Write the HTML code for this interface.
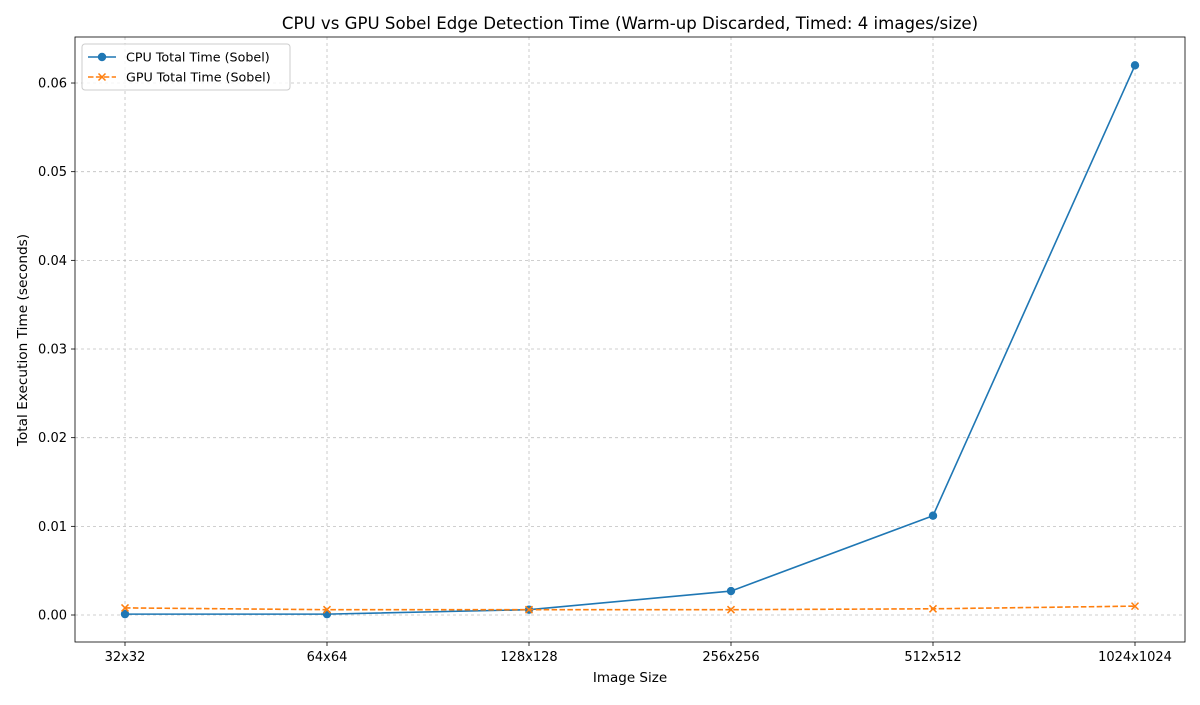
<!DOCTYPE html>
<html><head><meta charset="utf-8"><style>
body{margin:0;background:#fff;font-family:"Liberation Sans","DejaVu Sans",sans-serif;}
svg text{font-family:"DejaVu Sans","Liberation Sans",sans-serif;}
</style></head><body>
<svg id="chart" width="1200" height="700" xmlns="http://www.w3.org/2000/svg"></svg>
<script>
const categories=["32x32","64x64","128x128","256x256","512x512","1024x1024"];
const cpuValues=[0.0001,0.0001,0.0006,0.0027,0.0112,0.0620];
const gpuValues=[0.0008,0.0006,0.0006,0.0006,0.0007,0.0010];
const yTicks=[0,0.01,0.02,0.03,0.04,0.05,0.06];
const yTickLabels=["0.00","0.01","0.02","0.03","0.04","0.05","0.06"];

const svg=document.getElementById('chart');
const NS='http://www.w3.org/2000/svg';
const L=75,R=1185,T=37,B=642;
const yMin=-0.003045,yMax=0.06519;
function xs(i){return 125+i*(1135-125)/(categories.length-1);}
function ys(v){return B-(v-yMin)/(yMax-yMin)*(B-T);}
function mk(tag,attrs,parent){const e=document.createElementNS(NS,tag);for(const k in attrs)e.setAttribute(k,attrs[k]);(parent||svg).appendChild(e);return e;}

const grid=mk('g',{});


categories.forEach((c,i)=>{
  mk('line',{x1:xs(i),x2:xs(i),y1:T,y2:B,stroke:'#b0b0b0','stroke-width':0.8,'stroke-dasharray':'3,3',opacity:0.8},grid);
  mk('line',{x1:xs(i),x2:xs(i),y1:B,y2:B+4,stroke:'#000','stroke-width':0.8},grid);
  const t=mk('text',{x:xs(i),y:B+19,'text-anchor':'middle','font-size':13},svg);
  t.textContent=c;
  
  
});
yTicks.forEach((v,i)=>{
  mk('line',{x1:L,x2:R,y1:ys(v),y2:ys(v),stroke:'#b0b0b0','stroke-width':0.8,'stroke-dasharray':'3,3',opacity:0.8},grid);
  mk('line',{x1:L-4,x2:L,y1:ys(v),y2:ys(v),stroke:'#000','stroke-width':0.8},grid);
  const t=mk('text',{x:L-8,y:ys(v)+4.5,'text-anchor':'end','font-size':13},svg);
  t.textContent=yTickLabels[i];
  
  
});
const frame=mk('rect',{x:L,y:T,width:R-L,height:B-T,fill:'none',stroke:'#000','stroke-width':0.8});



const cpu=mk('polyline',{points:cpuValues.map((v,i)=>xs(i)+','+ys(v)).join(' '),fill:'none',stroke:'#1f77b4','stroke-width':1.6});


cpuValues.forEach((v,i)=>{
  const c=mk('circle',{cx:xs(i),cy:ys(v),r:4.2,fill:'#1f77b4'});
  
  
});
const gpu=mk('polyline',{points:gpuValues.map((v,i)=>xs(i)+','+ys(v)).join(' '),fill:'none',stroke:'#ff7f0e','stroke-width':1.6,'stroke-dasharray':'5.5,2.4'});


gpuValues.forEach((v,i)=>{
  const x=xs(i),y=ys(v);
  const g=mk('path',{d:`M${x-3.5},${y-3.5}L${x+3.5},${y+3.5}M${x-3.5},${y+3.5}L${x+3.5},${y-3.5}`,stroke:'#ff7f0e','stroke-width':1.5});
  
  
});

const title=mk('text',{x:630,y:29,'text-anchor':'middle','font-size':16.6});
title.textContent='CPU vs GPU Sobel Edge Detection Time (Warm-up Discarded, Timed: 4 images/size)';


const xt=mk('text',{x:630,y:682,'text-anchor':'middle','font-size':13.5});
xt.textContent='Image Size';


const yt=mk('text',{x:27,y:340,'text-anchor':'middle','font-size':13.7,transform:'rotate(-90 27 340)'});
yt.textContent='Total Execution Time (seconds)';



const lg=mk('g',{});


mk('rect',{x:82,y:44,width:208,height:46,rx:3,fill:'#fff',stroke:'#ccc','fill-opacity':0.8},lg);
mk('line',{x1:88,x2:116,y1:57,y2:57,stroke:'#1f77b4','stroke-width':1.6},lg);
mk('circle',{cx:102,cy:57,r:4.2,fill:'#1f77b4'},lg);
const l1=mk('text',{x:126,y:61.5,'font-size':12.7},lg);l1.textContent='CPU Total Time (Sobel)';


mk('line',{x1:88,x2:116,y1:77,y2:77,stroke:'#ff7f0e','stroke-width':1.6,'stroke-dasharray':'5.5,2.4'},lg);
mk('path',{d:'M98.5,73.5L105.5,80.5M98.5,80.5L105.5,73.5',stroke:'#ff7f0e','stroke-width':1.5},lg);
const l2=mk('text',{x:126,y:81.5,'font-size':12.7},lg);l2.textContent='GPU Total Time (Sobel)';


</script>
</body></html>
